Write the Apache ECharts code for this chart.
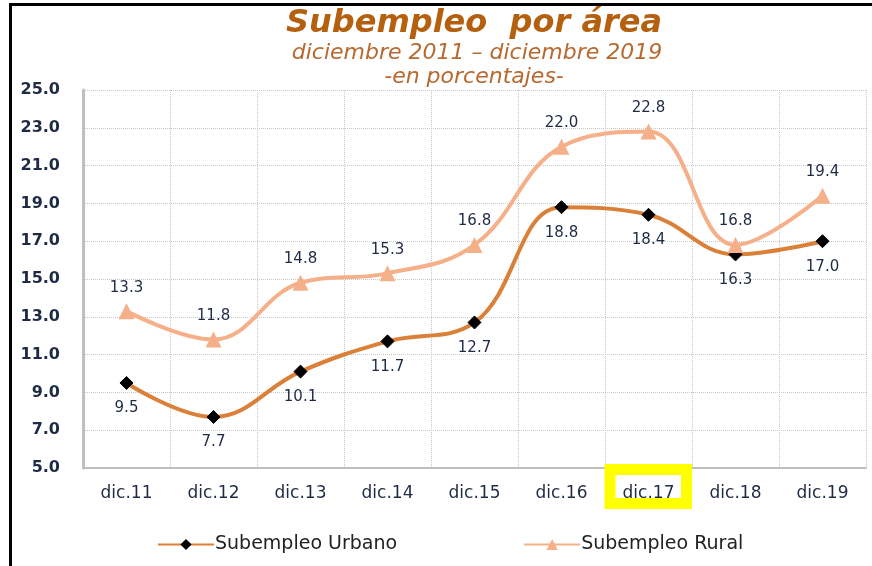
<!DOCTYPE html>
<html>
<head>
<meta charset="utf-8">
<script src="https://cdn.jsdelivr.net/npm/echarts@6/dist/echarts.min.js"></script>
<style>
  html, body { margin: 0; padding: 0; background: #ffffff; }
  #main { width: 872px; height: 566px; }
</style>
</head>
<body>
<div id="main"></div>
<script>
var categories = ['dic.11', 'dic.12', 'dic.13', 'dic.14', 'dic.15', 'dic.16', 'dic.17', 'dic.18', 'dic.19'];
var urbano = [9.5, 7.7, 10.1, 11.7, 12.7, 18.8, 18.4, 16.3, 17.0];
var rural = [13.3, 11.8, 14.8, 15.3, 16.8, 22.0, 22.8, 16.8, 19.4];
var yTicks = { min: 5, max: 25, interval: 2 };

var textColor = '#1f2a44';
var myChart = echarts.init(document.getElementById('main'));

var option = {
    backgroundColor: '#ffffff',
    animation: false,
    grid: { left: 83, right: 6, top: 90, bottom: 98 },
    graphic: [
        // marco negro (arriba e izquierda)
        { type: 'rect', z: 100, shape: { x: 9, y: 3, width: 870, height: 3 }, style: { fill: '#000' } },
        { type: 'rect', z: 100, shape: { x: 9, y: 3, width: 3, height: 570 }, style: { fill: '#000' } },
        // titulos
        { type: 'text', x: 474, y: 8, style: { text: 'Subempleo  por área', fill: '#b5600f', font: 'italic bold 32px "DejaVu Sans"', textAlign: 'center' } },
        { type: 'text', x: 477, y: 42, style: { text: 'diciembre 2011 – diciembre 2019', fill: '#b8692f', font: 'italic 22px "DejaVu Sans"', textAlign: 'center' } },
        { type: 'text', x: 474, y: 66, style: { text: '-en porcentajes-', fill: '#b8692f', font: 'italic 22px "DejaVu Sans"', textAlign: 'center' } },
        // recuadro amarillo en dic.17
        { type: 'rect', z: 50, shape: { x: 610, y: 469.5, width: 76.5, height: 34 }, style: { fill: 'none', stroke: '#ffff00', lineWidth: 11 } }
    ],
    legend: {
        bottom: 7,
        left: 152,
        itemWidth: 56,
        itemHeight: 14,
        itemGap: 126,
        textStyle: { fontFamily: 'DejaVu Sans', fontSize: 19, color: '#222', padding: [0, 0, 0, -4] },
        data: ['Subempleo Urbano', 'Subempleo Rural']
    },
    xAxis: {
        type: 'category',
        data: categories,
        boundaryGap: true,
        axisLine: { lineStyle: { color: '#bfbfbf', width: 2 } },
        axisTick: { show: false },
        axisLabel: { color: textColor, fontFamily: 'DejaVu Sans', fontSize: 17, margin: 17 },
        splitLine: { show: true, interval: 0, lineStyle: { color: '#c8c8c8', type: 'dotted', width: 1 } }
    },
    yAxis: {
        type: 'value',
        min: yTicks.min,
        max: yTicks.max,
        interval: yTicks.interval,
        axisLine: { show: true, lineStyle: { color: '#bfbfbf', width: 3 } },
        axisTick: { show: false },
        axisLabel: {
            color: textColor, fontFamily: 'DejaVu Sans', fontWeight: 'bold', fontSize: 16, margin: 23,
            formatter: function (v) { return v.toFixed(1); }
        },
        splitLine: { lineStyle: { color: '#c8c8c8', type: 'dotted', width: 1 } }
    },
    series: [
        {
            name: 'Subempleo Urbano',
            type: 'line',
            data: urbano,
            smooth: 0.4,
            symbol: 'diamond',
            symbolSize: 13,
            lineStyle: { color: '#da8039', width: 4 },
            itemStyle: { color: '#000000', borderColor: '#000000' },
            label: {
                show: true, position: 'bottom', distance: 11,
                color: textColor, fontFamily: 'DejaVu Sans', fontSize: 15,
                formatter: function (p) { return p.value.toFixed(1); }
            },
            z: 3
        },
        {
            name: 'Subempleo Rural',
            type: 'line',
            data: rural,
            smooth: 0.4,
            symbol: 'triangle',
            symbolSize: 16,
            lineStyle: { color: '#f5b08a', width: 4 },
            itemStyle: { color: '#f5b08a' },
            label: {
                show: true, position: 'top', distance: 8,
                color: textColor, fontFamily: 'DejaVu Sans', fontSize: 15,
                formatter: function (p) { return p.value.toFixed(1); }
            },
            z: 4
        }
    ]
};

myChart.setOption(option, true);
</script>
</body>
</html>
